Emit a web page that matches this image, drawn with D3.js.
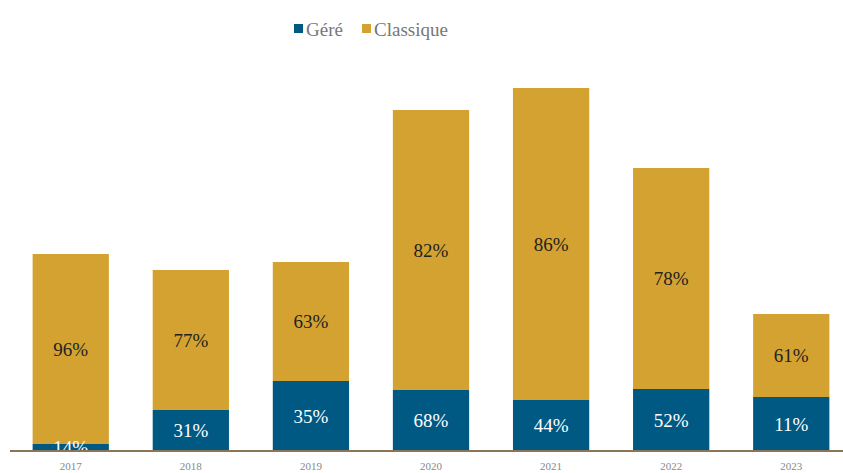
<!DOCTYPE html>
<html>
<head>
<meta charset="utf-8">
<script src="https://cdn.jsdelivr.net/npm/d3@7"></script>
<style>
  body { margin: 0; background: #fff; }
  svg { display: block; }
</style>
</head>
<body>
<div class="container"></div>
<script>
// data (segment heights in arbitrary units, labels as printed)
const years = ['2017', '2018', '2019', '2020', '2021', '2022', '2023']
const gere = [7, 41, 70, 61, 51, 62, 54]
const classique = [190, 140, 119, 280, 312, 221, 83]
const gereLabels = ['14%', '31%', '35%', '68%', '44%', '52%', '11%']
const classiqueLabels = ['96%', '77%', '63%', '82%', '86%', '78%', '61%']
const seriesNames = ['Géré', 'Classique']
const colors = ['#005983', '#D4A230']

const W = 843, H = 473
const base = 451

const svg = d3.select('.container')
  .append('svg')
  .attr('width', W)
  .attr('height', H)

const x = d3.scaleBand()
  .domain(years)
  .range([11, 851])
  .paddingInner(0.365)
  .paddingOuter(0.18)

const y = d3.scaleLinear()
  .domain([0, 400])
  .range([base, base - 400])

const rows = years.map((yr, i) => ({ year: yr, g: gere[i], c: classique[i], gl: gereLabels[i], cl: classiqueLabels[i] }))

// bars
const grp = svg.append('g')
grp.selectAll('rect.g')
  .data(rows)
  .join('rect')
  .attr('class', 'g')
  .attr('x', d => x(d.year))
  .attr('width', x.bandwidth())
  .attr('y', d => y(d.g))
  .attr('height', d => y(0) - y(d.g))
  .attr('fill', colors[0])

grp.selectAll('rect.c')
  .data(rows)
  .join('rect')
  .attr('class', 'c')
  .attr('x', d => x(d.year))
  .attr('width', x.bandwidth())
  .attr('y', d => y(d.g + d.c))
  .attr('height', d => y(d.g) - y(d.g + d.c))
  .attr('fill', colors[1])

// value labels
const font = '"Liberation Serif", "DejaVu Serif", serif'
grp.selectAll('text.cl')
  .data(rows)
  .join('text')
  .attr('x', d => x(d.year) + x.bandwidth() / 2)
  .attr('y', d => (y(d.g) + y(d.g + d.c)) / 2)
  .attr('dy', '0.35em')
  .attr('text-anchor', 'middle')
  .style('font-family', font)
  .style('font-size', '19px')
  .attr('fill', '#222')
  .text(d => d.cl)

grp.selectAll('text.gl')
  .data(rows)
  .join('text')
  .attr('x', d => x(d.year) + x.bandwidth() / 2)
  .attr('y', d => (y(0) + y(d.g)) / 2)
  .attr('dy', '0.35em')
  .attr('text-anchor', 'middle')
  .style('font-family', font)
  .style('font-size', '19px')
  .attr('fill', '#fff')
  .text(d => d.gl)

// baseline axis
const axis = svg.append('g')
  .attr('transform', `translate(0,${base})`)
  .call(d3.axisBottom(x).tickSize(0).tickPadding(11))
axis.select('.domain').remove()
axis.append('line')
  .attr('x1', 10).attr('x2', W)
  .attr('stroke', '#8C7556')
  .attr('stroke-width', 2)
axis.selectAll('.tick text')
  .style('font-family', font)
  .style('font-size', '11px')
  .attr('fill', '#888')

// legend
const legend = svg.append('g').attr('transform', 'translate(294,29)')
const items = [{ name: seriesNames[0], x: 0 }, { name: seriesNames[1], x: 68 }]
items.forEach((it, i) => {
  legend.append('rect')
    .attr('x', it.x).attr('y', -5)
    .attr('width', 9).attr('height', 9)
    .attr('fill', colors[i])
  legend.append('text')
    .attr('x', it.x + 12).attr('y', 0)
    .attr('dy', '0.35em')
    .style('font-family', font)
    .style('font-size', '19px')
    .attr('fill', '#777')
    .text(it.name)
})
</script>
</body>
</html>
